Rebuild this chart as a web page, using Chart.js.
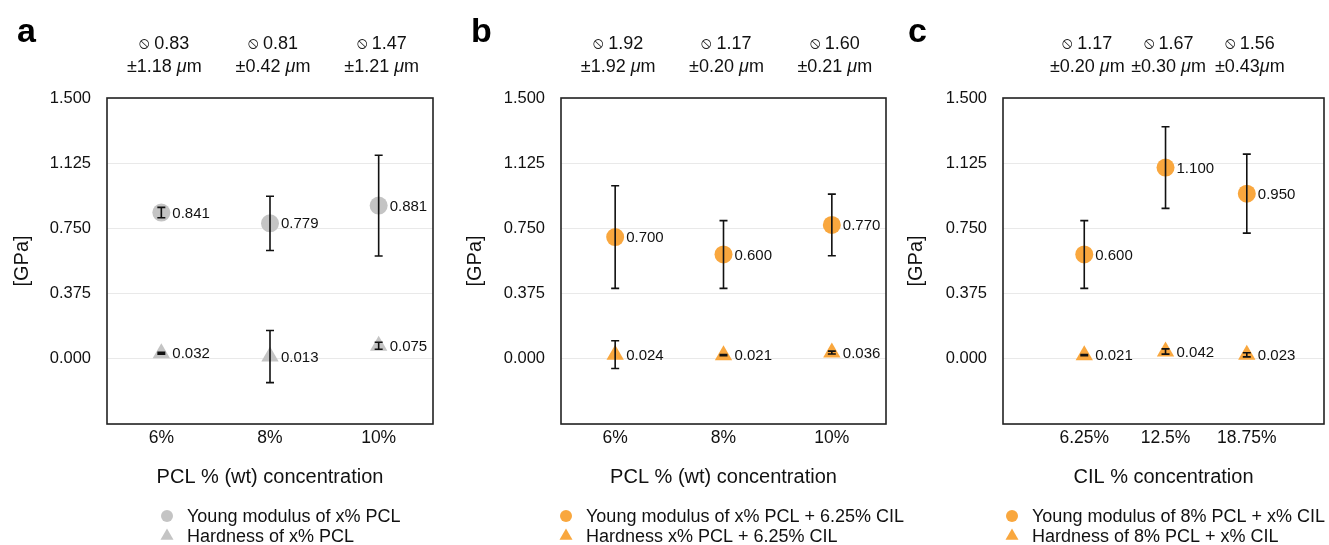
<!DOCTYPE html>
<html>
<head>
<meta charset="utf-8">
<script src="https://cdn.jsdelivr.net/npm/chart.js@4.4.1/dist/chart.umd.min.js"></script>
<style>
  body { margin: 0; background: #fff; }
  .panel { position: absolute; top: 0; height: 545px; }
</style>
</head>
<body>
<div class="panel" style="left:0;width:447px"><canvas id="chartA"></canvas></div>
<div class="panel" style="left:447px;width:493px"><canvas id="chartB"></canvas></div>
<div class="panel" style="left:890px;width:439px"><canvas id="chartC"></canvas></div>
<script>
// categories
const pclLabels = ['6%', '8%', '10%'];
const cilLabels = ['6.25%', '12.5%', '18.75%'];
const yTicks = [-0.375, 0, 0.375, 0.75, 1.125, 1.5];

// panel a : x% PCL
const youngA = [0.841, 0.779, 0.881];
const youngErrA = [0.03, 0.156, 0.29];
const hardA = [0.032, 0.013, 0.075];
const hardErrA = [0.005, 0.15, 0.02];
const diamA = ['0.83', '0.81', '1.47'];
const diamSdA = ['±1.18 ', '±0.42 ', '±1.21 '];

// panel b : x% PCL + 6.25% CIL
const youngB = [0.700, 0.600, 0.770];
const youngErrB = [0.295, 0.195, 0.177];
const hardB = [0.024, 0.021, 0.036];
const hardErrB = [0.08, 0.003, 0.008];
const diamB = ['1.92', '1.17', '1.60'];
const diamSdB = ['±1.92 ', '±0.20 ', '±0.21 '];

// panel c : 8% PCL + x% CIL
const youngC = [0.600, 1.100, 0.950];
const youngErrC = [0.195, 0.235, 0.227];
const hardC = [0.021, 0.042, 0.023];
const hardErrC = [0.003, 0.015, 0.012];
const diamC = ['1.17', '1.67', '1.56'];
const diamSdC = ['±0.20 ', '±0.30 ', '±0.43'];

const FONT = '"Liberation Sans", Arial, Helvetica, sans-serif';
const INK = '#111';
const GREY = '#c4c4c4';
const ORANGE = '#f9a73e';

// error bars, value labels, frame, panel letter, diameters, legend
const extras = {
  id: 'extras',
  afterDatasetsDraw(chart) {
    const ctx = chart.ctx;
    const x = chart.scales.x, y = chart.scales.y;
    ctx.save();
    chart.data.datasets.forEach(ds => {
      ds.data.forEach((pt, i) => {
        const px = x.getPixelForValue(pt.x);
        const py = y.getPixelForValue(pt.y);
        const e = ds.errors[i];
        const t = y.getPixelForValue(pt.y + e);
        const b = y.getPixelForValue(pt.y - e);
        ctx.strokeStyle = INK;
        ctx.lineWidth = 1.6;
        ctx.beginPath();
        ctx.moveTo(px, t); ctx.lineTo(px, b);
        ctx.moveTo(px - 4, t); ctx.lineTo(px + 4, t);
        ctx.moveTo(px - 4, b); ctx.lineTo(px + 4, b);
        ctx.stroke();
        ctx.fillStyle = INK;
        ctx.font = '15px ' + FONT;
        ctx.textAlign = 'left';
        ctx.textBaseline = 'middle';
        ctx.fillText(pt.y.toFixed(3), px + 11, py + 1);
      });
    });
    ctx.restore();
  },
  afterDraw(chart, args, opts) {
    const ctx = chart.ctx;
    const a = chart.chartArea;
    const x = chart.scales.x;
    ctx.save();
    ctx.strokeStyle = '#222';
    ctx.lineWidth = 1.6;
    ctx.strokeRect(a.left, a.top, a.right - a.left, a.bottom - a.top);

    // panel letter
    ctx.fillStyle = '#000';
    ctx.font = 'bold 34px ' + FONT;
    ctx.textAlign = 'left';
    ctx.textBaseline = 'alphabetic';
    ctx.fillText(opts.letter, opts.letterX, 42);

    // fibre diameter notes above each category
    ctx.fillStyle = INK;
    ctx.textBaseline = 'middle';
    const symFont = '16px "DejaVu Sans", sans-serif';
    const txtFont = '18px ' + FONT;
    opts.xs.forEach((v, i) => {
      const cx = x.getPixelForValue(v) + 3;
      ctx.font = symFont;
      const sym = '⦸';
      const w1 = ctx.measureText(sym).width;
      ctx.font = txtFont;
      const txt = ' ' + opts.diam[i];
      const w2 = ctx.measureText(txt).width;
      let sx = cx - (w1 + w2) / 2;
      ctx.font = symFont;
      ctx.fillText(sym, sx, 44);
      ctx.font = txtFont;
      ctx.fillText(txt, sx + w1, 44);

      const sd = opts.sd[i];
      const wa = ctx.measureText(sd).width;
      ctx.font = 'italic ' + txtFont;
      const wb = ctx.measureText('μ').width;
      ctx.font = txtFont;
      const wc = ctx.measureText('m').width;
      sx = cx - (wa + wb + wc) / 2;
      ctx.fillText(sd, sx, 67);
      ctx.font = 'italic ' + txtFont;
      ctx.fillText('μ', sx + wa, 67);
      ctx.font = txtFont;
      ctx.fillText('m', sx + wa + wb, 67);
    });

    // legend
    chart.data.datasets.forEach((ds, i) => {
      const ly = opts.legendY + i * 20;
      const lx = opts.legendX;
      ctx.fillStyle = ds.backgroundColor;
      ctx.beginPath();
      if (ds.pointStyle === 'triangle') {
        const r = 7.5;
        ctx.moveTo(lx, ly - r);
        ctx.lineTo(lx + r * 0.866, ly + r / 2);
        ctx.lineTo(lx - r * 0.866, ly + r / 2);
        ctx.closePath();
      } else {
        ctx.arc(lx, ly, 6, 0, Math.PI * 2);
      }
      ctx.fill();
      ctx.fillStyle = INK;
      ctx.font = '18px ' + FONT;
      ctx.textAlign = 'left';
      ctx.fillText(ds.label, lx + 20, ly + 1);
    });
    ctx.restore();
  }
};

function makePanel(id, p) {
  const pts = (vals) => vals.map((v, i) => ({ x: p.xs[i], y: v }));
  new Chart(document.getElementById(id), {
    type: 'scatter',
    data: {
      datasets: [
        {
          label: p.youngLabel, data: pts(p.young), errors: p.youngErr,
          backgroundColor: p.color, pointStyle: 'circle', pointRadius: 9, pointBorderWidth: 0
        },
        {
          label: p.hardLabel, data: pts(p.hard), errors: p.hardErr,
          backgroundColor: p.color, pointStyle: 'triangle', pointRadius: 10, pointBorderWidth: 0
        }
      ]
    },
    options: {
      responsive: true,
      maintainAspectRatio: false,
      animation: false,
      layout: { autoPadding: false, padding: { top: 98, right: p.padRight, bottom: 51, left: 0 } },
      plugins: {
        legend: { display: false },
        tooltip: { enabled: false },
        extras: {
          letter: p.letter, letterX: p.letterX, xs: p.xs, diam: p.diam, sd: p.sd,
          legendX: p.legendX, legendY: 516
        }
      },
      scales: {
        x: {
          type: 'linear', min: p.xMin, max: p.xMax,
          afterBuildTicks: s => { s.ticks = p.xs.map(v => ({ value: v })); },
          afterFit: s => { s.height = 70; s.paddingLeft = 0; s.paddingRight = 0; },
          grid: { display: false },
          border: { display: false },
          ticks: {
            color: INK, font: { family: FONT, size: 17.5 }, padding: -4,
            maxRotation: 0, autoSkip: false,
            callback: (v, i) => p.cats[i]
          },
          title: {
            display: true, text: p.xTitle, color: INK,
            font: { family: FONT, size: 20 }, padding: { top: 0, bottom: 5 }
          }
        },
        y: {
          min: -0.375, max: 1.5,
          afterBuildTicks: s => { s.ticks = yTicks.map(v => ({ value: v })); },
          afterFit: s => { s.width = p.yWidth; },
          grid: { color: '#e9e9e9', lineWidth: 1, drawTicks: false },
          border: { display: false },
          ticks: {
            color: INK, font: { family: FONT, size: 16.5 }, padding: 16,
            callback: v => (v < 0 ? '' : v.toFixed(3))
          },
          title: {
            display: true, text: '[GPa]', color: INK,
            font: { family: FONT, size: 20 }, padding: { top: p.yTitlePad, bottom: 0 }
          }
        }
      }
    },
    plugins: [extras]
  });
}

makePanel('chartA', {
  cats: pclLabels, xs: [0.5, 1.5, 2.5], xMin: 0, xMax: 3,
  young: youngA, youngErr: youngErrA, hard: hardA, hardErr: hardErrA,
  diam: diamA, sd: diamSdA, color: GREY,
  youngLabel: 'Young modulus of x% PCL', hardLabel: 'Hardness of x% PCL',
  xTitle: 'PCL % (wt) concentration', letter: 'a', letterX: 17,
  yWidth: 107, padRight: 14, yTitlePad: 10, legendX: 167
});

makePanel('chartB', {
  cats: pclLabels, xs: [0.5, 1.5, 2.5], xMin: 0, xMax: 3,
  young: youngB, youngErr: youngErrB, hard: hardB, hardErr: hardErrB,
  diam: diamB, sd: diamSdB, color: ORANGE,
  youngLabel: 'Young modulus of x% PCL + 6.25% CIL', hardLabel: 'Hardness x% PCL + 6.25% CIL',
  xTitle: 'PCL % (wt) concentration', letter: 'b', letterX: 24,
  yWidth: 114, padRight: 54, yTitlePad: 16, legendX: 119
});

makePanel('chartC', {
  cats: cilLabels, xs: [1, 2, 3], xMin: 0, xMax: 3.95,
  young: youngC, youngErr: youngErrC, hard: hardC, hardErr: hardErrC,
  diam: diamC, sd: diamSdC, color: ORANGE,
  youngLabel: 'Young modulus of 8% PCL + x% CIL', hardLabel: 'Hardness of 8% PCL + x% CIL',
  xTitle: 'CIL % concentration', letter: 'c', letterX: 18,
  yWidth: 113, padRight: 5, yTitlePad: 14, legendX: 122
});
</script>
</body>
</html>
